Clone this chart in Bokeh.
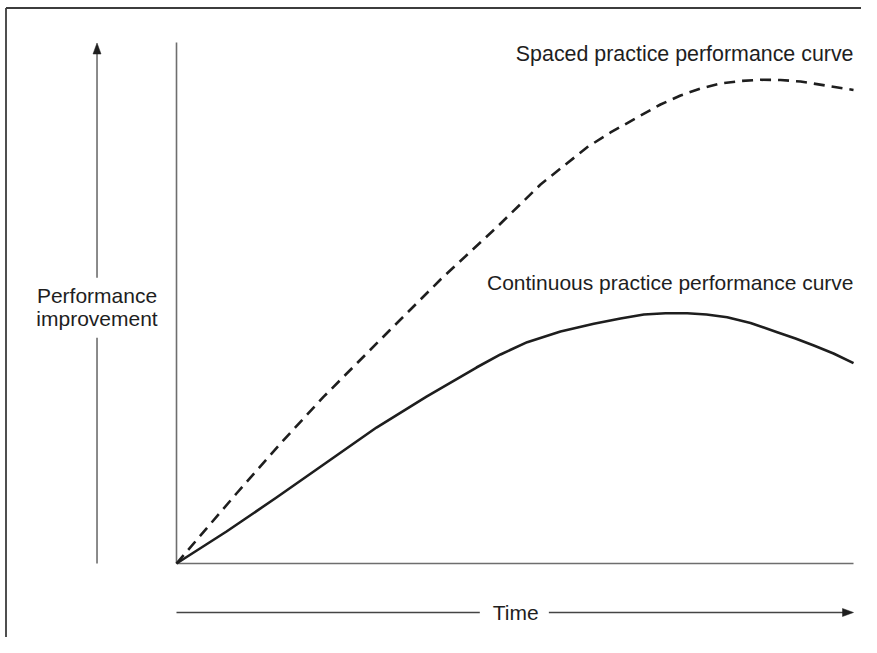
from bokeh.plotting import figure
from bokeh.models import Range1d, Label
from bokeh.embed import file_html
from bokeh.resources import INLINE

# Data (time 0..100, performance improvement 0..100)
spaced_t = [0, 8.86, 15.36, 21.67, 31.46, 39.00, 47.27, 53.77, 60.66, 64.11, 68.05, 71.49,
            74.45, 77.40, 80.35, 83.31, 86.26, 89.22, 92.17, 95.86, 100]
spaced_p = [0, 13.44, 23.03, 31.92, 44.72, 54.51, 64.49, 72.74, 79.90, 82.73, 85.60, 88.10,
            89.83, 91.17, 92.13, 92.61, 92.84, 92.80, 92.51, 91.75, 90.88]

cont_t = [0, 7.39, 14.77, 22.16, 29.54, 36.93, 44.31, 47.86, 51.80, 56.72, 61.64, 65.58,
          69.03, 72.23, 75.44, 78.29, 81.34, 84.79, 88.73, 91.43, 94.14, 97.05, 100]
cont_p = [0, 6.14, 12.67, 19.39, 26.10, 32.05, 37.62, 40.12, 42.48, 44.53, 46.01, 47.02,
          47.79, 48.02, 48.04, 47.79, 47.28, 46.16, 44.40, 43.19, 41.84, 40.31, 38.45]

labels = ["Spaced practice performance curve", "Continuous practice performance curve"]
y_label = ["Performance", "improvement"]
x_label = "Time"

W, H = 861, 637
X0, X1 = -25.997, 101.18
Y0, Y1 = -14.20, 108.06
SX = W / (X1 - X0)   # px per time unit
SY = H / (Y1 - Y0)   # px per perf unit

def px_x(px):  # px from left of figure -> data x
    return X0 + px / SX

def px_y(py):  # px from top of figure -> data y
    return Y1 - py / SY

p = figure(width=W, height=H, x_range=Range1d(X0, X1), y_range=Range1d(Y0, Y1),
           output_backend="svg", toolbar_location=None, min_border=0,
           background_fill_color="white", border_fill_color="white")
p.xaxis.visible = False
p.yaxis.visible = False
p.grid.visible = False
p.outline_line_color = None

axis_col = "#6e6e6e"
ink = "#1e1e1e"

# Border (left and top edges visible)
p.line([px_x(5.5), px_x(5.5)], [Y0, px_y(7.5)], line_color="#3c3c3c", line_width=1.8)
p.line([px_x(5.5), X1], [px_y(7.5), px_y(7.5)], line_color="#3c3c3c", line_width=1.8)

# Axis lines of the diagram
p.line([0, 0], [0, 100], line_color=axis_col, line_width=1.6)
p.line([0, 100], [0, 0], line_color=axis_col, line_width=1.6)

# Vertical arrow (performance improvement)
ax_t = -11.74
p.line([ax_t, ax_t], [0, 43.32], line_color=axis_col, line_width=1.6)
p.line([ax_t, ax_t], [54.84, 98.5], line_color=axis_col, line_width=1.6)
p.patch([ax_t, ax_t - 4 / SX, ax_t + 4 / SX], [99.9, 99.9 - 11 / SY, 99.9 - 11 / SY],
        fill_color=ink, line_color=ink, line_width=0.5)

# Horizontal arrow (time)
ay_p = -9.40
p.line([0, 44.8], [ay_p, ay_p], line_color="#444444", line_width=1.5)
p.line([55.0, 99], [ay_p, ay_p], line_color="#444444", line_width=1.5)
p.patch([100, 100 - 11 / SX, 100 - 11 / SX], [ay_p, ay_p + 4 / SY, ay_p - 4 / SY],
        fill_color=ink, line_color=ink, line_width=0.5)

# Curves
p.line(spaced_t, spaced_p, line_color=ink, line_width=2.6, line_dash="11 7", line_join="round")
p.line(cont_t, cont_p, line_color=ink, line_width=2.6, line_join="round")

font = "Liberation Sans"
fs = "21px"
p.add_layout(Label(x=100, y=97.80, text=labels[0], text_align="right",
                   text_baseline="alphabetic", text_font=font, text_font_size="21.4px", text_color=ink))
p.add_layout(Label(x=100, y=53.84, text=labels[1], text_align="right",
                   text_baseline="alphabetic", text_font=font, text_font_size=fs, text_color=ink))
p.add_layout(Label(x=ax_t, y=51.44, text=y_label[0], text_align="center",
                   text_baseline="alphabetic", text_font=font, text_font_size=fs, text_color=ink))
p.add_layout(Label(x=ax_t, y=47.12, text=y_label[1], text_align="center",
                   text_baseline="alphabetic", text_font=font, text_font_size=fs, text_color=ink))
p.add_layout(Label(x=50.1, y=ay_p, text=x_label, text_align="center",
                   text_baseline="middle", text_font=font, text_font_size=fs, text_color=ink))

open("out.html", "w").write(file_html(p, INLINE))
